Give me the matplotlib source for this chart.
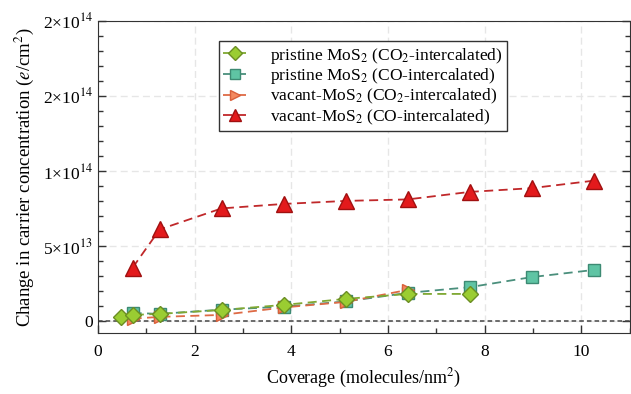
import matplotlib
matplotlib.use("Agg")
import matplotlib.pyplot as plt
from matplotlib.ticker import MultipleLocator, AutoMinorLocator

plt.rcParams["font.family"] = ["Liberation Serif", "DejaVu Serif"]
plt.rcParams["mathtext.fontset"] = "stix"

# pristine MoS2, CO2-intercalated
x_pris_co2 = [0.47, 0.72, 1.28, 2.56, 3.85, 5.13, 6.41, 7.69]
y_pris_co2 = [2.7e12, 4.0e12, 4.7e12, 7.3e12, 1.07e13, 1.47e13, 1.8e13, 1.8e13]
# pristine MoS2, CO-intercalated
x_pris_co = [0.72, 1.28, 2.56, 3.85, 5.13, 6.41, 7.69, 8.97, 10.26]
y_pris_co = [5.3e12, 4.7e12, 7.5e12, 9.5e12, 1.3e13, 1.87e13, 2.25e13, 2.92e13, 3.4e13]
# vacant MoS2, CO2-intercalated
x_vac_co2 = [0.72, 1.28, 2.56, 3.85, 5.13, 6.41]
y_vac_co2 = [1.5e12, 2.7e12, 4.0e12, 9.0e12, 1.27e13, 2.07e13]
# vacant MoS2, CO-intercalated
x_vac_co = [0.72, 1.28, 2.56, 3.85, 5.13, 6.41, 7.69, 8.97, 10.26]
y_vac_co = [3.55e13, 6.1e13, 7.5e13, 7.8e13, 8.0e13, 8.1e13, 8.6e13, 8.85e13, 9.35e13]

labels = [
    r"pristine MoS$_2$ (CO$_2$-intercalated)",
    r"pristine MoS$_2$ (CO-intercalated)",
    r"vacant-MoS$_2$ (CO$_2$-intercalated)",
    r"vacant-MoS$_2$ (CO-intercalated)",
]
ytick_vals = [0, 5e13, 1e14, 1.5e14, 2e14]
ytick_labels = ["0", r"5×10$^{13}$", r"1×10$^{14}$", r"2×10$^{14}$", r"2×10$^{14}$"]

fig = plt.figure(figsize=(6.31, 3.94), dpi=100)
ax = fig.add_axes([0.155, 0.155, 0.843, 0.792])

dash = (5, 3)
ax.axhline(0, color="#444444", lw=1.1, ls=(0, (3, 2)), zorder=1)

l1, = ax.plot(x_pris_co2, y_pris_co2, ls=(0, dash), color="#7fa832", lw=1.3,
              marker="D", ms=8, mfc="#9acd32", mec="#6b8e23", mew=1, zorder=6)
l2, = ax.plot(x_pris_co, y_pris_co, ls=(0, dash), color="#4a8f7c", lw=1.3,
              marker="s", ms=8, mfc="#5fc4a4", mec="#3d8a73", mew=1, zorder=4)
l3, = ax.plot(x_vac_co2, y_vac_co2, ls=(0, dash), color="#de6a45", lw=1.3,
              marker=">", ms=8, mfc="#f4895f", mec="#d9603b", mew=1, zorder=5)
l4, = ax.plot(x_vac_co, y_vac_co, ls=(0, dash), color="#c0282a", lw=1.3,
              marker="^", ms=11, mfc="#e31a1c", mec="#a01010", mew=1, zorder=5)

ax.set_xlim(0, 11)
ax.set_ylim(-8e12, 2e14)
ax.xaxis.set_major_locator(MultipleLocator(2))
ax.xaxis.set_minor_locator(MultipleLocator(1))
ax.set_yticks(ytick_vals)
ax.set_yticklabels(ytick_labels)
ax.yaxis.set_minor_locator(AutoMinorLocator(5))
ax.tick_params(which="both", direction="in", right=True, top=False,
               labelsize=12.5, width=1, color="#333333")
ax.tick_params(which="major", length=6)
ax.tick_params(which="minor", length=3.5)
ax.tick_params(axis="x", pad=8)
for s in ax.spines.values():
    s.set_color("#333333")

ax.grid(True, which="major", color="#e6e6e6", ls=(0, (5, 3)), lw=1)
ax.set_axisbelow(True)

ax.set_xlabel(r"Coverage (molecules/nm$^2$)", fontsize=13, labelpad=5)
ax.set_ylabel(r"Change in carrier concentration ($e$/cm$^2$)",
              fontsize=13.5, labelpad=5)

leg = ax.legend([l1, l2, l3, l4], labels, loc="upper left",
                bbox_to_anchor=(0.228, 0.935), fontsize=12.5, frameon=True,
                fancybox=False, edgecolor="#333333", framealpha=1,
                handlelength=1.3, handletextpad=1.4, borderpad=0.25,
                labelspacing=0.05, markerscale=0.85, borderaxespad=0)
leg.get_frame().set_linewidth(1)

fig.savefig("out.png", dpi=100)
